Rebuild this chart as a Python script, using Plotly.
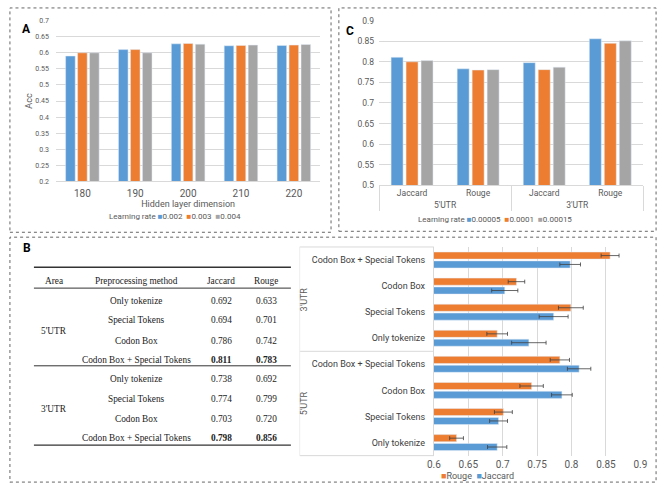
import plotly.graph_objects as go

W, H = 666, 491
BLUE, ORANGE, GRAY = "#5B9BD5", "#ED7D31", "#A5A5A5"
SANS = "Roboto"
SERIF = "Liberation Serif"
TXT = "#595959"

# ---------------- Panel A data ----------------
hidden_dims = ["180", "190", "200", "210", "220"]
lr_a_names = ["0.002", "0.003", "0.004"]
acc_lr_0002 = [0.590, 0.610, 0.628, 0.622, 0.623]
acc_lr_0003 = [0.600, 0.610, 0.629, 0.623, 0.624]
acc_lr_0004 = [0.600, 0.600, 0.627, 0.624, 0.626]

# ---------------- Panel C data ----------------
c_area = ["5'UTR", "5'UTR", "3'UTR", "3'UTR"]
c_metric = ["Jaccard", "Rouge", "Jaccard", "Rouge"]
lr_c_names = ["0.00005", "0.0001", "0.00015"]
c_lr_00005 = [0.811, 0.783, 0.798, 0.856]
c_lr_0001 = [0.800, 0.780, 0.781, 0.845]
c_lr_00015 = [0.803, 0.781, 0.787, 0.851]

# ---------------- Panel B data ----------------
b_area = ["5'UTR"] * 4 + ["3'UTR"] * 4
b_method = ["Only tokenize", "Special Tokens", "Codon Box", "Codon Box + Special Tokens"] * 2
b_jaccard = [0.692, 0.694, 0.786, 0.811, 0.738, 0.774, 0.703, 0.798]
b_rouge = [0.633, 0.701, 0.742, 0.783, 0.692, 0.799, 0.720, 0.856]
b_jaccard_err = [0.014, 0.013, 0.015, 0.017, 0.025, 0.021, 0.019, 0.015]
b_rouge_err = [0.010, 0.013, 0.017, 0.014, 0.015, 0.018, 0.012, 0.013]
table_header = ["Area", "Preprocessing method", "Jaccard", "Rouge"]


def px(x):
    return x / W


def py(y):
    return 1 - y / H


fig = go.Figure()

# Panel A bars
for name, vals, col in zip(lr_a_names, [acc_lr_0002, acc_lr_0003, acc_lr_0004], [BLUE, ORANGE, GRAY]):
    fig.add_trace(go.Bar(x=hidden_dims, y=vals, name=name, marker_color=col,
                         xaxis="x", yaxis="y", showlegend=False))

# Panel C bars
for name, vals, col in zip(lr_c_names, [c_lr_00005, c_lr_0001, c_lr_00015], [BLUE, ORANGE, GRAY]):
    fig.add_trace(go.Bar(x=[c_area, c_metric], y=vals, name=name, marker_color=col,
                         xaxis="x2", yaxis="y2", showlegend=False))

# Panel B horizontal bars (unique category keys, method names shown as tick text)
b_keys = [f"{a} | {m}" for a, m in zip(b_area, b_method)]
err_style = dict(type="data", color="#404040", thickness=0.8, width=2)
fig.add_trace(go.Bar(y=b_keys, x=b_jaccard, orientation="h", name="Jaccard",
                     marker_color=BLUE, error_x=dict(array=b_jaccard_err, **err_style),
                     xaxis="x3", yaxis="y3", showlegend=False))
fig.add_trace(go.Bar(y=b_keys, x=b_rouge, orientation="h", name="Rouge",
                     marker_color=ORANGE, error_x=dict(array=b_rouge_err, **err_style),
                     xaxis="x3", yaxis="y3", showlegend=False))

grid = "#D9D9D9"
fig.update_layout(
    width=W, height=H, margin=dict(l=0, r=0, t=0, b=0),
    paper_bgcolor="white", plot_bgcolor="white",
    font=dict(family=SANS, color=TXT, size=9),
    barmode="group",
    xaxis=dict(domain=[px(50), px(320)], type="category", showline=True, linecolor=grid,
               tickfont=dict(size=10), ticks="", anchor="y", ticklabelstandoff=3,
               title=dict(text="Hidden layer dimension", font=dict(size=9), standoff=2)),
    yaxis=dict(domain=[py(180), py(16)], range=[0.2, 0.7], dtick=0.05, gridcolor=grid,
               tickfont=dict(size=7), zeroline=False, anchor="x", ticklabelstandoff=6,
               title=dict(text="Acc", font=dict(size=9), standoff=1)),
    xaxis2=dict(domain=[px(380), px(650)], type="multicategory", showline=True, linecolor=grid,
                tickfont=dict(size=8.5), dividercolor=grid, showdividers=True, ticks="", anchor="y2"),
    yaxis2=dict(domain=[py(184), py(16)], range=[0.5, 0.9], dtick=0.05, gridcolor=grid,
                tickfont=dict(size=8.5), zeroline=False, anchor="x2", ticklabelstandoff=4),
    xaxis3=dict(domain=[px(436), px(647)], range=[0.6, 0.9], dtick=0.05, gridcolor=grid,
                tickfont=dict(size=10), zeroline=False, anchor="y3", ticklabelstandoff=1),
    yaxis3=dict(domain=[py(460), py(247)], type="category", showline=True, linecolor=grid,
                tickmode="array", tickvals=b_keys, ticktext=b_method,
                tickfont=dict(size=9, color="#404040"), ticks="", anchor="x3",
                categoryorder="array", categoryarray=b_keys, ticklabelstandoff=6),
)
fig.update_layout(bargap=0.32, bargroupgap=0.2)

shapes = []
annotations = []

# dotted panel borders
for x0, y0, x1, y1 in [(3, 3, 331, 232), (339, 3, 663, 231), (3, 237, 663, 487)]:
    shapes.append(dict(type="rect", xref="paper", yref="paper", x0=px(x0), x1=px(x1),
                       y0=py(y1), y1=py(y0), line=dict(color="#666666", width=1, dash="dot")))


def ann(text, x, y, **kw):
    d = dict(text=text, x=px(x), y=py(y), xref="paper", yref="paper", showarrow=False,
             xanchor="center", yanchor="middle")
    d.update(kw)
    annotations.append(d)


# panel letters
for letter, x, y in [("A", 20, 25), ("C", 350, 27), ("B", 20, 248)]:
    ann(f"<b>{letter}</b>", x, y, font=dict(size=12, color="black", family=SANS))


def legend_text(title, names, colors):
    items = [f"<span style='color:{c}'>■</span>{n}" for n, c in zip(names, colors)]
    return title + " " + "  ".join(items)


ann(legend_text("Learning rate", lr_a_names, [BLUE, ORANGE, GRAY]), 172, 216, font=dict(size=8))
ann(legend_text("Learning rate", lr_c_names, [BLUE, ORANGE, GRAY]), 498, 219, font=dict(size=8))
ann(legend_text("", ["Rouge", "Jaccard"], [ORANGE, BLUE]).strip(), 481, 481, font=dict(size=9))

# panel B category group labels and dividers
ann(b_area[4], 303, 301, textangle=-90, font=dict(size=9))
ann(b_area[0], 303, 407, textangle=-90, font=dict(size=9))
for yy in [247, 353.5, 460]:
    shapes.append(dict(type="line", xref="paper", yref="paper", x0=px(299), x1=px(436),
                       y0=py(yy), y1=py(yy), line=dict(color=grid, width=1)))
shapes.append(dict(type="line", xref="paper", yref="paper", x0=px(299), x1=px(299),
                   y0=py(460), y1=py(247), line=dict(color="#EEEEEE", width=1)))

# ---------------- Table (panel B left) ----------------
col_x = [48, 132, 219, 265]
head_y = 282
row_y = [302, 322, 342.5, 362, 382, 402, 423, 442.5]
tfont = dict(family=SERIF, size=9.3, color="#222222")
for cx, h in zip(col_x, table_header):
    ann(h, cx, head_y, font=tfont)
for i in range(len(b_method)):
    best = b_method[i] == "Codon Box + Special Tokens"
    vals = [b_method[i], f"{b_jaccard[i]:.3f}", f"{b_rouge[i]:.3f}"]
    for j, v in enumerate(vals):
        t = f"<b>{v}</b>" if (best and j > 0) else v
        ann(t, col_x[j + 1], row_y[i], font=tfont)
for area, yy in [(b_area[0], 332.5), (b_area[4], 412.5)]:
    ann(area, col_x[0], yy, font=tfont)
for yy, wdt in [(267.7, 1.3), (289, 1), (368.3, 1), (449.3, 1.3)]:
    shapes.append(dict(type="line", xref="paper", yref="paper", x0=px(27.5), x1=px(290),
                       y0=py(yy), y1=py(yy), line=dict(color="#333333", width=wdt)))

fig.update_layout(shapes=shapes, annotations=annotations)
fig.write_html("out.html", config={"displayModeBar": False},
               post_script="document.body.style.margin='0';document.body.style.overflow='hidden';")
